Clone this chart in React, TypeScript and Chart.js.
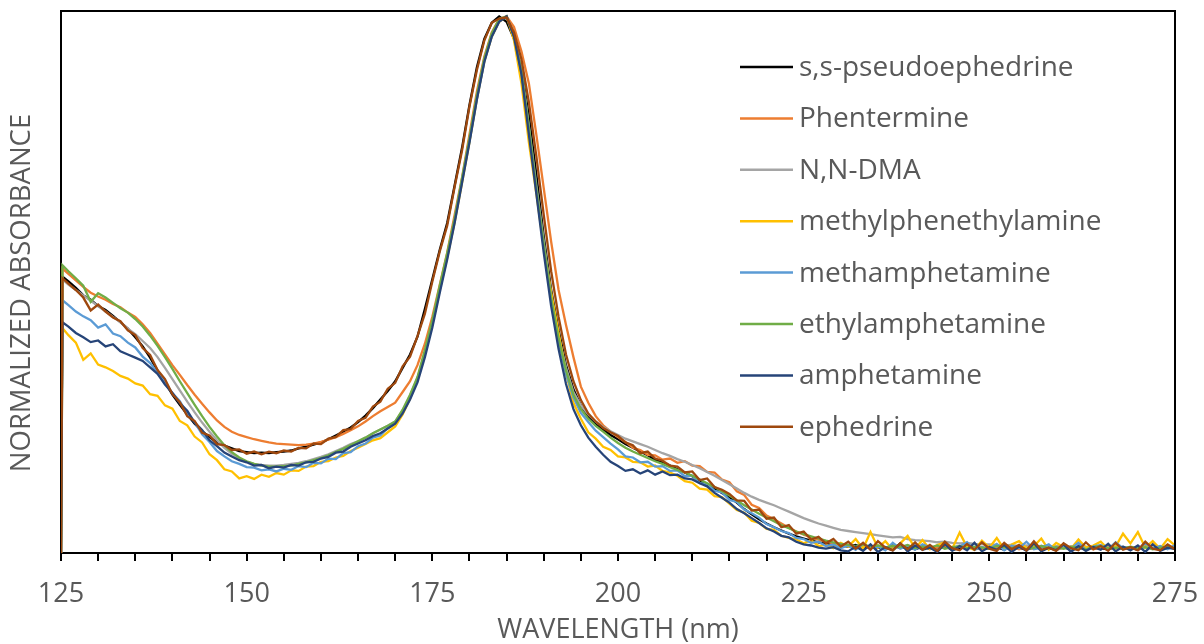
import { useEffect, useRef } from "react";
import { Chart, registerables } from "chart.js";

Chart.register(...registerables);

// Sampling grid (nm): 125 (baseline start), 125.2, then every 1 nm to 275
const WAVELENGTHS: number[] = [125, 125.2, ...Array.from({ length: 150 }, (_, i) => 126 + i)];

const X_TICKS = [125, 150, 175, 200, 225, 250, 275];

const X_TITLE = "WAVELENGTH (nm)";
const Y_TITLE = "NORMALIZED ABSORBANCE";

const SERIES_NAMES = [
  "s,s-pseudoephedrine",
  "Phentermine",
  "N,N-DMA",
  "methylphenethylamine",
  "methamphetamine",
  "ethylamphetamine",
  "amphetamine",
  "ephedrine",
];

const SERIES_COLORS = ["#000000", "#ED7D31", "#A5A5A5", "#FFC000", "#5B9BD5", "#70AD47", "#264478", "#9E480E"];

// Normalized absorbance (% of peak)
const PSEUDOEPHEDRINE = [
  0, 51.5,
  50.6, 49.4, 48.0, 47.2, 46.0, 45.3, 44.2, 43.0, 41.8,
  40.2, 38.5, 36.4, 34.0, 31.8, 29.5, 27.6, 25.8, 24.1, 22.7,
  21.6, 20.6, 20.0, 19.5, 19.0, 18.8, 18.6, 18.7, 18.6, 18.8,
  18.9, 19.1, 19.5, 19.8, 20.2, 20.6, 21.2, 21.9, 22.6, 23.4,
  24.4, 25.6, 27.0, 28.6, 30.2, 32.0, 34.5, 37.0, 40.3, 45.5,
  51.0, 56.5, 61.5, 68.5, 75.5, 83.5, 90.5, 95.8, 98.8, 100,
  99.0, 95.8, 90.0, 81.5, 70.5, 59.0, 49.0, 41.5, 35.0, 30.5, 27.5, 25.5, 24.0, 23.0, 22.0, 21.2,
  20.3, 19.6, 18.9, 18.2, 17.4, 16.8, 16.3, 15.6, 15.0, 14.3,
  13.5, 12.7, 12.0, 11.2, 10.4, 9.4, 8.2, 7.2, 6.3, 5.5,
  4.8, 4.2, 3.6, 3.1, 2.7, 2.3, 2.0, 1.8, 1.6, 1.4,
  1.2, 1.5, 0.9, 1.3, 1.0, 0.8, 1.4, 0.9, 1.1, 0.7,
  1.2, 0.8, 1.0, 1.3, 0.6, 0.9, 1.2, 0.7, 1.0, 0.8,
  1.1, 0.6, 1.3, 0.9, 0.7, 1.0, 1.2, 0.8, 0.9, 1.1,
  0.6, 1.0, 0.8, 1.2, 0.9, 0.7, 1.1, 0.8, 1.0, 0.6,
  1.2, 0.9, 0.8, 1.0, 1.1,
];

const PHENTERMINE = [
  0, 53.0,
  52.0, 50.8, 49.6, 48.5, 47.8, 47.2, 46.4, 45.8, 44.8,
  44.0, 42.6, 41.0, 39.0, 37.0, 35.0, 33.2, 31.3, 29.5, 27.8,
  26.2, 24.7, 23.5, 22.6, 22.0, 21.6, 21.2, 20.9, 20.6, 20.4,
  20.3, 20.2, 20.1, 20.2, 20.4, 20.7, 21.1, 21.6, 22.2, 22.9,
  23.6, 24.5, 25.5, 26.4, 27.2, 28.0, 30.0, 32.0, 35.0, 39.0,
  44.0, 50.0, 56.0, 63.0, 70.0, 78.0, 86.0, 92.5, 97.0, 99.5,
  100, 98.0, 93.5, 87.5, 78.0, 68.0, 58.0, 49.0, 42.5, 36.5, 31.0, 28.0, 25.5, 23.8, 22.6, 21.6,
  20.7, 19.6, 19.2, 18.3, 18.2, 17.4, 17.6, 16.8, 17.1, 16.3,
  16.2, 15.1, 15.0, 13.7, 13.2, 11.5, 10.8, 9.0, 8.4, 7.0,
  6.3, 5.5, 4.7, 4.0, 3.4, 2.9, 2.5, 2.1, 1.8, 1.5,
  1.3, 0.9, 1.6, 1.0, 1.4, 0.8, 1.2, 1.5, 0.7, 1.1,
  1.3, 0.8, 1.0, 1.4, 0.7, 1.2, 0.9, 1.1, 0.6, 1.3,
  0.9, 1.0, 1.2, 0.7, 1.1, 0.8, 1.3, 0.9, 0.6, 1.0,
  1.2, 0.8, 1.1, 0.7, 1.0, 1.3, 0.8, 0.9, 1.1, 0.7,
  1.2, 0.8, 1.0, 0.9, 1.1,
];

const NN_DMA = [
  0, 51.0,
  50.0, 49.0, 48.0, 47.0, 46.0, 45.0, 44.0, 43.0, 41.8,
  40.8, 39.5, 38.2, 36.5, 34.5, 32.4, 30.3, 28.2, 26.2, 24.3,
  22.6, 21.0, 19.6, 18.5, 17.6, 17.0, 16.6, 16.4, 16.3, 16.3,
  16.4, 16.6, 16.8, 17.1, 17.5, 17.9, 18.4, 19.0, 19.6, 20.3,
  20.8, 21.5, 22.3, 23.0, 23.7, 24.5, 26.5, 29.3, 32.6, 37.5,
  43.0, 49.5, 55.5, 62.0, 69.5, 77.0, 85.0, 92.0, 96.5, 99.3,
  100, 96.5, 90.0, 79.5, 68.5, 58.0, 48.0, 40.5, 34.5, 30.0, 27.5, 25.8, 24.5, 23.5, 22.7, 22.0,
  21.3, 20.8, 20.3, 19.8, 19.2, 18.6, 18.1, 17.5, 17.0, 16.4,
  15.8, 15.1, 14.4, 13.6, 12.8, 12.0, 11.2, 10.5, 9.9, 9.4,
  8.9, 8.3, 7.7, 7.1, 6.5, 6.0, 5.5, 5.1, 4.7, 4.3,
  4.1, 3.9, 3.7, 3.5, 3.3, 3.1, 2.9, 3.0, 2.6, 2.4,
  2.3, 2.2, 2.0, 2.1, 1.9, 1.8, 1.9, 1.7, 1.6, 1.6,
  1.5, 1.4, 1.5, 1.3, 1.4, 1.2, 1.3, 1.2, 1.3, 1.1,
  1.2, 1.1, 1.2, 1.0, 1.1, 1.0, 1.1, 1.0, 1.0, 0.9,
  1.0, 0.9, 1.0, 0.9, 1.0,
];

const METHYLPHENETHYLAMINE = [
  0, 41.9,
  40.6, 39.2, 36.0, 37.2, 35.1, 34.6, 33.9, 33.0, 32.5,
  31.6, 31.2, 29.6, 29.3, 27.5, 26.9, 24.6, 23.8, 21.7, 20.6,
  18.4, 17.3, 15.6, 15.2, 13.9, 14.3, 13.8, 14.6, 14.2, 14.9,
  14.6, 15.4, 15.3, 16.1, 16.2, 17.0, 17.1, 17.8, 18.1, 19.0,
  19.6, 20.3, 21.0, 21.4, 22.5, 23.6, 25.8, 28.8, 32.3, 37.0,
  42.6, 49.0, 55.0, 61.6, 69.0, 76.6, 84.6, 91.6, 96.2, 99.0,
  100, 95.5, 87.5, 76.5, 67.0, 57.0, 48.5, 41.0, 33.5, 28.0, 25.0, 22.5, 21.3, 19.8, 19.2, 18.0,
  17.8, 17.0, 16.9, 16.1, 16.3, 15.3, 15.0, 14.4, 13.4, 13.1,
  12.0, 11.8, 10.6, 10.4, 9.2, 8.0, 7.5, 6.0, 5.6, 4.5,
  4.3, 3.2, 2.8, 2.5, 1.8, 2.4, 1.3, 1.5, 0.9, 1.9,
  1.2, 2.6, 0.8, 3.9, 1.0, 2.2, 0.6, 1.8, 3.2, 0.9,
  2.4, 0.7, 1.5, 2.0, 0.8, 3.8, 1.1, 0.6, 2.3, 1.0,
  2.8, 0.7, 1.6, 2.2, 0.9, 1.3, 2.7, 0.6, 1.9, 1.1,
  0.8, 2.5, 1.0, 1.4, 2.1, 0.7, 1.2, 3.6, 1.8, 3.9,
  1.0, 2.2, 0.8, 2.6, 1.4,
];

const METHAMPHETAMINE = [
  0, 47.1,
  46.2, 45.0, 44.1, 43.4, 42.0, 42.6, 40.9, 40.4, 39.2,
  38.3, 36.6, 35.4, 33.6, 31.9, 29.8, 28.3, 26.0, 24.4, 22.1,
  20.7, 19.0, 18.0, 17.1, 16.6, 16.0, 15.9, 15.4, 15.6, 15.2,
  15.7, 15.5, 16.2, 16.0, 16.8, 16.7, 17.6, 17.5, 18.6, 18.8,
  19.9, 20.4, 21.5, 21.9, 23.3, 24.2, 26.3, 29.0, 32.4, 37.2,
  42.8, 49.2, 55.3, 61.9, 69.4, 76.8, 84.7, 91.7, 96.3, 99.1,
  100, 96.4, 89.5, 79.0, 67.8, 57.2, 47.3, 39.6, 33.4, 29.0, 26.1, 24.4, 22.8, 21.6, 20.4, 19.3,
  18.0, 17.8, 16.9, 17.0, 16.1, 16.2, 15.3, 15.4, 14.3, 14.4,
  13.0, 12.9, 11.6, 11.3, 9.9, 9.5, 8.1, 7.4, 6.6, 5.4,
  4.8, 4.1, 3.7, 2.8, 2.6, 1.9, 2.1, 1.3, 1.6, 0.9,
  1.4, 0.6, 1.7, 0.9, 1.2, 0.5, 1.9, 0.8, 1.3, 0.6,
  1.6, 1.0, 0.5, 1.8, 0.7, 1.2, 2.0, 0.6, 1.1, 0.8,
  1.7, 0.5, 1.4, 0.9, 2.1, 0.7, 1.0, 1.6, 0.5, 1.3,
  0.8, 1.9, 0.6, 1.2, 1.5, 0.7, 2.0, 0.9, 1.1, 0.6,
  1.8, 0.8, 1.3, 0.7, 1.5,
];

const ETHYLAMPHETAMINE = [
  0, 53.6,
  52.5, 51.2, 49.8, 46.8, 48.4, 47.6, 46.6, 45.6, 44.8,
  43.6, 42.2, 40.5, 38.6, 36.5, 34.3, 32.0, 29.8, 27.6, 25.5,
  23.5, 21.7, 20.1, 18.8, 17.8, 17.1, 16.6, 16.3, 16.1, 16.1,
  16.2, 16.3, 16.6, 16.9, 17.3, 17.7, 18.2, 18.8, 19.4, 20.1,
  20.8, 21.5, 22.3, 23.0, 23.7, 24.5, 26.7, 29.5, 32.8, 37.8,
  43.3, 49.8, 55.8, 62.3, 69.8, 77.3, 85.3, 92.2, 96.8, 99.5,
  100, 96.3, 89.8, 79.3, 68.0, 57.5, 47.5, 40.0, 34.0, 29.5, 26.8, 25.0, 23.7, 22.6, 21.5, 20.5,
  19.6, 18.9, 18.3, 17.7, 17.1, 16.6, 16.0, 15.5, 15.0, 14.4,
  13.7, 13.0, 12.3, 11.5, 10.7, 9.8, 8.9, 8.1, 7.3, 6.6,
  5.9, 5.2, 4.6, 4.0, 3.5, 3.1, 2.7, 2.3, 2.0, 1.7,
  1.5, 1.3, 1.6, 1.2, 1.4, 1.0, 1.3, 1.1, 1.5, 0.9,
  1.2, 1.0, 1.4, 0.8, 1.1, 1.3, 0.9, 1.2, 1.0, 0.8,
  1.3, 1.1, 0.9, 1.2, 0.7, 1.0, 1.3, 0.9, 1.1, 0.8,
  1.2, 1.0, 0.7, 1.1, 1.3, 0.9, 1.0, 0.8, 1.2, 0.9,
  1.1, 0.7, 1.0, 1.2, 0.9,
];

const AMPHETAMINE = [
  0, 43.0,
  42.2, 41.0, 40.2, 39.3, 39.6, 38.5, 38.9, 37.6, 37.0,
  36.4, 35.8, 34.6, 33.4, 31.4, 29.8, 27.9, 26.5, 24.3, 22.9,
  21.0, 19.9, 18.7, 18.0, 17.3, 16.9, 16.3, 16.4, 15.8, 16.1,
  15.9, 16.4, 16.3, 16.9, 17.0, 17.6, 17.9, 18.7, 18.9, 19.8,
  20.4, 21.0, 21.8, 22.3, 23.2, 24.1, 26.0, 28.6, 31.8, 36.5,
  42.0, 48.5, 54.7, 61.5, 69.0, 76.5, 84.5, 91.5, 96.2, 99.0,
  100, 96.2, 89.2, 78.0, 67.0, 56.0, 46.0, 38.0, 31.5, 26.8, 23.8, 21.5, 19.8, 18.3, 17.0, 16.2,
  15.3, 15.6, 14.8, 15.4, 14.6, 15.2, 14.5, 14.6, 13.9, 13.7,
  13.0, 12.4, 11.2, 10.3, 9.4, 8.2, 7.4, 6.5, 5.6, 4.6,
  4.0, 3.2, 2.9, 2.1, 1.6, 1.4, 1.0, 0.8, 1.1, 0.5,
  0.3, 1.2, 0.4, 1.6, 0.2, 1.1, 0.5, 1.8, 0.3, 1.4,
  0.6, 1.0, 0.2, 1.7, 0.4, 1.3, 0.5, 1.9, 0.3, 1.1,
  0.6, 1.5, 0.2, 1.2, 0.4, 1.8, 0.3, 1.0, 0.5, 1.6,
  0.2, 1.3, 0.4, 1.1, 0.6, 1.7, 0.3, 1.2, 0.5, 1.4,
  0.2, 1.6, 0.4, 1.0, 0.7,
];

const EPHEDRINE = [
  0, 51.2,
  50.2, 49.0, 47.6, 45.2, 46.3, 45.0, 43.9, 43.2, 41.5,
  40.6, 38.2, 36.9, 34.1, 32.4, 29.6, 28.1, 25.5, 24.6, 22.4,
  21.9, 20.3, 20.1, 19.2, 19.3, 18.5, 18.9, 18.4, 18.9, 18.6,
  19.1, 18.9, 19.6, 19.5, 20.4, 20.3, 21.3, 21.6, 22.9, 23.1,
  24.6, 25.2, 27.3, 28.2, 30.6, 31.7, 34.8, 36.6, 40.4, 44.6,
  50.6, 56.2, 61.0, 68.2, 75.0, 83.2, 90.0, 95.5, 98.8, 99.6,
  99.8, 97.0, 92.0, 84.0, 74.0, 63.0, 52.5, 44.0, 37.0, 32.0, 28.5, 26.0, 24.5, 23.3, 22.5, 21.8,
  20.6, 20.1, 18.6, 18.9, 17.6, 17.2, 16.3, 16.1, 15.0, 15.2,
  13.6, 13.9, 12.3, 11.8, 11.0, 9.8, 9.7, 7.9, 8.1, 6.4,
  6.6, 4.8, 5.2, 3.6, 4.0, 2.5, 3.0, 1.8, 2.6, 1.2,
  2.1, 0.8, 1.9, 0.6, 2.2, 1.0, 0.5, 1.8, 0.7, 2.0,
  0.6, 1.5, 0.4, 2.1, 0.9, 0.5, 1.7, 0.6, 2.0, 0.8,
  0.4, 1.9, 0.7, 1.5, 0.5, 2.2, 0.6, 1.0, 0.4, 1.8,
  0.9, 0.5, 2.0, 0.7, 1.3, 0.4, 1.9, 0.6, 1.1, 0.5,
  2.1, 0.8, 0.5, 1.6, 0.7,
];

const SERIES_VALUES = [
  PSEUDOEPHEDRINE,
  PHENTERMINE,
  NN_DMA,
  METHYLPHENETHYLAMINE,
  METHAMPHETAMINE,
  ETHYLAMPHETAMINE,
  AMPHETAMINE,
  EPHEDRINE,
];

const FONT = '"Open Sans", "DejaVu Sans", sans-serif';
const TEXT_COLOR = "#595959";

const framePlugin = {
  id: "frameAndLegend",
  afterDatasetsDraw(chart: any) {
    const { ctx, chartArea } = chart;
    ctx.save();
    // top & right frame lines
    ctx.strokeStyle = "#000";
    ctx.lineWidth = 2;
    ctx.beginPath();
    ctx.moveTo(chartArea.left, chartArea.top);
    ctx.lineTo(chartArea.right, chartArea.top);
    ctx.lineTo(chartArea.right, chartArea.bottom);
    ctx.stroke();
    // legend inside the plot
    ctx.font = `28px ${FONT}`;
    ctx.textBaseline = "middle";
    ctx.textAlign = "left";
    chart.data.datasets.forEach((ds: any, i: number) => {
      const y = 67 + i * 51.4;
      ctx.strokeStyle = ds.borderColor;
      ctx.lineWidth = 2.5;
      ctx.beginPath();
      ctx.moveTo(740, y);
      ctx.lineTo(793, y);
      ctx.stroke();
      ctx.fillStyle = TEXT_COLOR;
      ctx.fillText(ds.label, 799, y + 1);
    });
    // y-axis title, centred like the reference
    ctx.save();
    ctx.translate(22, 293);
    ctx.rotate(-Math.PI / 2);
    ctx.font = `27.5px ${FONT}`;
    ctx.textAlign = "center";
    ctx.textBaseline = "middle";
    ctx.fillStyle = TEXT_COLOR;
    ctx.fillText(Y_TITLE, 0, 0);
    ctx.restore();
    ctx.restore();
  },
};

export default function App() {
  const ref = useRef<HTMLCanvasElement>(null);
  useEffect(() => {
    document.body.style.margin = "0";
    const n = SERIES_VALUES.length;
    const chart = new Chart(ref.current as HTMLCanvasElement, {
      type: "line",
      data: {
        datasets: SERIES_VALUES.map((vals, i) => ({
          label: SERIES_NAMES[i],
          data: WAVELENGTHS.map((x, j) => ({ x, y: vals[j] })),
          borderColor: SERIES_COLORS[i],
          backgroundColor: SERIES_COLORS[i],
          borderWidth: 2.3,
          pointRadius: 0,
          tension: 0,
          fill: false,
          order: n - i,
        })),
      },
      options: {
        responsive: false,
        animation: false,
        events: [],
        layout: { padding: { top: 11, right: 29, bottom: 0, left: 0 } },
        scales: {
          x: {
            type: "linear",
            min: 125,
            max: 275,
            afterBuildTicks: (scale: any) => {
              const t: { value: number }[] = [];
              for (let v = 125; v <= 275; v += 5) t.push({ value: v });
              scale.ticks = t;
            },
            ticks: {
              autoSkip: false,
              maxRotation: 0,
              padding: 17,
              color: TEXT_COLOR,
              font: { family: FONT, size: 27 },
              callback: (v: any) => (X_TICKS.includes(Number(v)) ? String(v) : ""),
            },
            grid: {
              display: true,
              drawOnChartArea: false,
              drawTicks: true,
              tickLength: 8,
              color: "#000",
              lineWidth: 2,
            },
            border: { display: true, color: "#000", width: 2 },
            title: {
              display: true,
              text: X_TITLE,
              color: TEXT_COLOR,
              font: { family: FONT, size: 27, lineHeight: 1.0 },
              padding: { top: 0, bottom: 0 },
            },
            afterFit: (scale: any) => {
              scale.height = 91;
              scale.paddingLeft = 0;
              scale.paddingRight = 0;
            },
          },
          y: {
            type: "linear",
            min: 0,
            max: 101,
            ticks: { display: false },
            grid: { display: false, drawTicks: false },
            border: { display: true, color: "#000", width: 2 },
            title: { display: false },
            afterFit: (scale: any) => {
              scale.width = 61;
              scale.paddingTop = 0;
              scale.paddingBottom = 0;
            },
          },
        },
        plugins: {
          legend: { display: false },
          tooltip: { enabled: false },
        },
      },
      plugins: [framePlugin],
    });
    return () => chart.destroy();
  }, []);
  return (
    <div style={{ width: 1204, height: 644 }}>
      <canvas ref={ref} width={1204} height={644} style={{ display: "block" }} />
    </div>
  );
}
